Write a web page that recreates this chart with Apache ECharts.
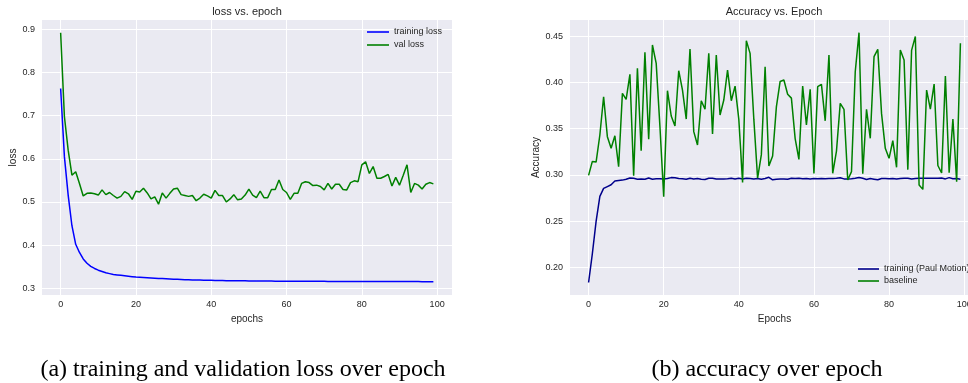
<!DOCTYPE html>
<html>
<head>
<meta charset="utf-8">
<script src="https://cdn.jsdelivr.net/npm/echarts@6/dist/echarts.min.js"></script>
<style>
  html, body { margin: 0; padding: 0; background: #fff; }
  #chart { width: 968px; height: 383px; }
</style>
</head>
<body>
<div id="chart"></div>
<script>
// (a) loss per epoch
var trainLoss = [
  0.763, 0.605, 0.516, 0.445, 0.402, 0.383, 0.368, 0.358, 0.351, 0.346,
  0.342, 0.339, 0.336, 0.334, 0.332, 0.331, 0.330, 0.329, 0.328, 0.327,
  0.326, 0.3255, 0.325, 0.3245, 0.324, 0.3235, 0.323, 0.3225, 0.322, 0.3215,
  0.321, 0.3207, 0.3204, 0.3201, 0.3198, 0.3195, 0.3193, 0.3191, 0.3189, 0.3187,
  0.3185, 0.3183, 0.3181, 0.318, 0.3178, 0.3177, 0.3176, 0.3175, 0.3174, 0.3173,
  0.3172, 0.3171, 0.317, 0.3169, 0.3168, 0.3167, 0.3167, 0.3166, 0.3166, 0.3165,
  0.3165, 0.3164, 0.3164, 0.3163, 0.3163, 0.3162, 0.3162, 0.3162, 0.3161, 0.3161,
  0.3161, 0.316, 0.316, 0.316, 0.3159, 0.3159, 0.3159, 0.3158, 0.3158, 0.3158,
  0.3158, 0.3157, 0.3157, 0.3157, 0.3157, 0.3156, 0.3156, 0.3156, 0.3156, 0.3156,
  0.3155, 0.3155, 0.3155, 0.3155, 0.3155, 0.3155, 0.3154, 0.3154, 0.3154, 0.3154
]
var valLoss = [
  0.892, 0.698, 0.620, 0.562, 0.570, 0.543, 0.514, 0.520, 0.521, 0.519,
  0.516, 0.528, 0.517, 0.522, 0.515, 0.509, 0.513, 0.524, 0.519, 0.506,
  0.525, 0.523, 0.532, 0.521, 0.507, 0.512, 0.495, 0.521, 0.509, 0.520,
  0.530, 0.532, 0.517, 0.515, 0.513, 0.515, 0.503, 0.509, 0.518, 0.514,
  0.509, 0.527, 0.515, 0.515, 0.500, 0.507, 0.517, 0.505, 0.507, 0.516,
  0.530, 0.516, 0.510, 0.525, 0.510, 0.510, 0.529, 0.529, 0.551, 0.529,
  0.522, 0.506, 0.520, 0.520, 0.543, 0.547, 0.545, 0.538, 0.539, 0.536,
  0.528, 0.543, 0.530, 0.541, 0.541, 0.529, 0.528, 0.545, 0.549, 0.547,
  0.586, 0.593, 0.566, 0.582, 0.555, 0.555, 0.559, 0.564, 0.537, 0.557,
  0.539, 0.562, 0.586, 0.522, 0.543, 0.539, 0.530, 0.541, 0.545, 0.542
]

// (b) accuracy per epoch
var trainAcc = [
  0.184, 0.215, 0.250, 0.277, 0.2855, 0.2875, 0.2895, 0.2935, 0.294, 0.2945,
  0.2955, 0.2968, 0.2965, 0.2955, 0.2958, 0.2955, 0.2968, 0.2955, 0.296, 0.296,
  0.2958, 0.2962, 0.2972, 0.297, 0.2962, 0.296, 0.2955, 0.2965, 0.2958, 0.2962,
  0.2955, 0.2952, 0.2965, 0.2965, 0.2958, 0.2958, 0.2958, 0.296, 0.2965, 0.2958,
  0.2965, 0.2958, 0.2965, 0.2962, 0.2958, 0.2962, 0.2955, 0.2962, 0.2975, 0.2948,
  0.2955, 0.2958, 0.2958, 0.2955, 0.2965, 0.2962, 0.2965, 0.296, 0.2962, 0.2958,
  0.2962, 0.296, 0.2962, 0.296, 0.2962, 0.2962, 0.2965, 0.297, 0.2958, 0.2958,
  0.296, 0.2965, 0.2972, 0.2965, 0.2952, 0.2962, 0.2955, 0.2948, 0.2962, 0.2962,
  0.296, 0.2962, 0.2958, 0.2962, 0.2965, 0.2965, 0.2958, 0.2962, 0.2965, 0.2965,
  0.2965, 0.2965, 0.2965, 0.2965, 0.2968, 0.2958, 0.2972, 0.296, 0.2962, 0.2955
]
var baseline = [
  0.2996, 0.3147, 0.314, 0.3432, 0.3845, 0.3414, 0.3288, 0.3424, 0.309, 0.3881,
  0.3817, 0.4087, 0.2993, 0.4151, 0.3263, 0.4324, 0.3385, 0.4403, 0.4205, 0.352,
  0.2766, 0.391, 0.3637, 0.3529, 0.4126, 0.3917, 0.3604, 0.436, 0.3468, 0.3324,
  0.3802, 0.3709, 0.4313, 0.3442, 0.4295, 0.3647, 0.3809, 0.4133, 0.3802, 0.396,
  0.360, 0.292, 0.445, 0.4313, 0.360, 0.2965, 0.322, 0.4169, 0.3097, 0.3205,
  0.3735, 0.401, 0.4025, 0.3872, 0.383, 0.3393, 0.3169, 0.396, 0.354, 0.3924,
  0.3018, 0.3953, 0.3978, 0.3585, 0.4295, 0.3018, 0.3258, 0.3773, 0.3709, 0.2946,
  0.3036, 0.4115, 0.4536, 0.3015, 0.3709, 0.3396, 0.4277, 0.4356, 0.3665, 0.3288,
  0.318, 0.337, 0.3083, 0.4349, 0.4241, 0.3058, 0.4345, 0.4496, 0.2892, 0.2845,
  0.3917, 0.371, 0.3982, 0.3103, 0.3022, 0.4068, 0.3025, 0.3604, 0.2928, 0.4421
]

var epochTicks = [0, 20, 40, 60, 80, 100]
var lossTicks = [0.3, 0.4, 0.5, 0.6, 0.7, 0.8, 0.9]
var accTicks = [0.20, 0.25, 0.30, 0.35, 0.40, 0.45]

var font = 'Liberation Sans'
var tickColor = '#262626'

function pairs(arr) {
  return arr.map(function (v, i) { return [i, v] })
}

function xAxisFor(idx, name) {
  return {
    type: 'value', gridIndex: idx, min: -4.95, max: 103.95,
    name: name, nameLocation: 'middle', nameGap: 17,
    nameTextStyle: { fontFamily: font, fontSize: 10, color: tickColor },
    axisLine: { show: false },
    axisTick: { show: false, customValues: epochTicks },
    axisLabel: { customValues: epochTicks, fontFamily: font, fontSize: 9, color: tickColor, margin: 5 },
    splitLine: { show: true, lineStyle: { color: '#fff', width: 1 } }
  }
}

function yAxisFor(idx, name, min, max, ticks, digits, gap) {
  return {
    type: 'value', gridIndex: idx, min: min, max: max,
    name: name, nameLocation: 'middle', nameGap: gap,
    nameTextStyle: { fontFamily: font, fontSize: 10, color: tickColor },
    axisLine: { show: false },
    axisTick: { show: false, customValues: ticks },
    axisLabel: {
      customValues: ticks, fontFamily: font, fontSize: 9, color: tickColor, margin: 7,
      formatter: function (v) { return v.toFixed(digits) }
    },
    splitLine: { show: true, lineStyle: { color: '#fff', width: 1 } }
  }
}

var legendText = { fontFamily: font, fontSize: 9, color: tickColor, lineHeight: 10 }

var chart = echarts.init(document.getElementById('chart'))
var option = {
  backgroundColor: '#fff',
  animation: false,
  title: [
    { text: 'loss vs. epoch', left: 247, top: 6, textAlign: 'center', padding: 0,
      textStyle: { fontFamily: font, fontSize: 11, fontWeight: 'normal', color: tickColor } },
    { text: 'Accuracy vs. Epoch', left: 774, top: 6, textAlign: 'center', padding: 0,
      textStyle: { fontFamily: font, fontSize: 11, fontWeight: 'normal', color: tickColor } },
    { text: '(a) training and validation loss over epoch', left: 243, top: 358, textAlign: 'center', padding: 0,
      textStyle: { fontFamily: 'Liberation Serif', fontSize: 24, fontWeight: 'normal', color: '#000' } },
    { text: '(b) accuracy over epoch', left: 767, top: 358, textAlign: 'center', padding: 0,
      textStyle: { fontFamily: 'Liberation Serif', fontSize: 24, fontWeight: 'normal', color: '#000' } }
  ],
  legend: [
    { data: ['training loss', 'val loss'], orient: 'vertical', left: 367, top: 27, padding: 0,
      icon: 'rect', itemWidth: 22, itemHeight: 1.6, itemGap: 3, textStyle: legendText },
    { data: ['training (Paul Motion)', 'baseline'], orient: 'vertical', left: 858, top: 264, padding: 0,
      icon: 'rect', itemWidth: 21, itemHeight: 1.6, itemGap: 2, textStyle: legendText }
  ],
  grid: [
    { left: 42, top: 20, width: 410, height: 275, show: true, backgroundColor: '#EAEAF2', borderWidth: 0,
      outerBoundsMode: 'none', containLabel: false },
    { left: 570, top: 20, width: 409, height: 275, show: true, backgroundColor: '#EAEAF2', borderWidth: 0,
      outerBoundsMode: 'none', containLabel: false }
  ],
  xAxis: [xAxisFor(0, 'epochs'), xAxisFor(1, 'Epochs')],
  yAxis: [
    yAxisFor(0, 'loss', 0.2845, 0.9216, lossTicks, 1, 21),
    yAxisFor(1, 'Accuracy', 0.1705, 0.4673, accTicks, 2, 26)
  ],
  series: [
    { name: 'training loss', type: 'line', xAxisIndex: 0, yAxisIndex: 0, data: pairs(trainLoss),
      symbol: 'none', color: '#0000ff', lineStyle: { width: 1.5 } },
    { name: 'val loss', type: 'line', xAxisIndex: 0, yAxisIndex: 0, data: pairs(valLoss),
      symbol: 'none', color: '#008000', lineStyle: { width: 1.5 } },
    { name: 'training (Paul Motion)', type: 'line', xAxisIndex: 1, yAxisIndex: 1, data: pairs(trainAcc),
      symbol: 'none', color: '#00008b', lineStyle: { width: 1.5 } },
    { name: 'baseline', type: 'line', xAxisIndex: 1, yAxisIndex: 1, data: pairs(baseline),
      symbol: 'none', color: '#008000', lineStyle: { width: 1.5 } }
  ]
}
chart.setOption(option)
</script>
</body>
</html>
